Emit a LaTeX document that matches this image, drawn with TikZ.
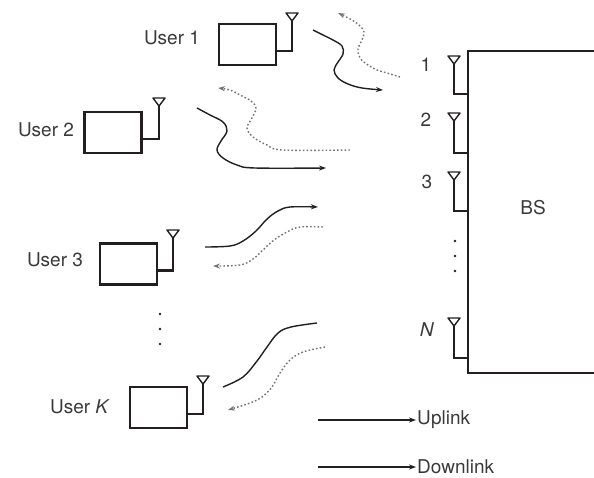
\documentclass[tikz,border=0pt]{standalone}
\usepackage{fontspec}
\setmainfont{TeX Gyre Heros}
\usetikzlibrary{arrows.meta}
\definecolor{ink}{HTML}{231F20}
\definecolor{txt}{HTML}{3A3A3A}
\begin{document}
\begin{tikzpicture}[x=1pt,y=-1pt,>={Stealth[length=7pt,width=5pt]},
  box/.style={draw=ink, line width=2.4pt, inner sep=0pt, minimum width=57pt, minimum height=41pt},
  wire/.style={draw=ink, line width=2.2pt},
  lbl/.style={text=txt, font=\fontsize{19}{21}\selectfont, inner sep=1pt},
  up/.style={draw=ink, line width=1.4pt},
  down/.style={draw=black!55, line width=1.4pt, dash pattern=on 1.6pt off 2.2pt}]
\useasboundingbox (0,0) rectangle (594,477);
\def\ant(#1){\draw[ink, line width=1.4pt, line join=round] (#1) -- ++(-6,-8) -- ++(12,0) -- cycle;}
% users
\node[box] (u1) at (247.5,44.5) {};
\node[box] (u2) at (113,132.5) {};
\node[box] (u3) at (128.5,264) {};
\node[box] (uK) at (158.5,407.5) {};
\node[lbl] (l1) at (172,38) {User 1};
\node[lbl] (l2) at (46,130) {User 2};
\node[lbl] (l3) at (55,260) {User 3};
\node[lbl] (lK) at (80,407) {User \textit{K}};
\coordinate (a1) at (292,21);
\coordinate (a2) at (159,106);
\coordinate (a3) at (173,238);
\coordinate (aK) at (203,384);
\foreach \u/\a in {u1/a1,u2/a2,u3/a3,uK/aK}{
  \draw[wire] (\a) |- ([yshift=-6.5pt]\u.east);
  \ant(\a)
}
\foreach \y in {314,329,344} \fill[ink] (160,\y) circle (1.3);
% base station
\node[draw=ink, line width=2.4pt, minimum width=144pt, minimum height=322pt, inner sep=0pt] (bs) at (540,212) {};
\node[lbl] (bslbl) at (533,208) {BS};
\coordinate (b1) at (454,64);
\coordinate (b2) at (454,121);
\coordinate (b3) at (454,180);
\coordinate (bN) at (454,326);
\foreach \b/\d in {b1/44,b2/103,b3/161,bN/308}{
  \draw[wire] (\b) |- ([yshift=-\d pt]bs.north west);
  \ant(\b)
}
\foreach \y in {241,256,271} \fill[ink] (455,\y) circle (1.3);
\node[lbl] (n1) at (426,65) {1};
\node[lbl] (n2) at (426,120) {2};
\node[lbl] (n3) at (427,182) {3};
\node[lbl] (nN) at (427,330) {\textit{N}};
% links
\draw[up,->] plot[smooth,tension=0.6] coordinates {(313,30) (323,35) (333,40) (342,46) (343,54) (338,62) (334,70) (338,78) (348,84) (362,88) (383,90)};
\draw[down,->] plot[smooth,tension=0.6] coordinates {(400,77) (387,73) (377,70) (368,65) (360,58) (358,49) (362,40) (364,32) (360,26) (352,20) (338,13)};
\draw[up,->] plot[smooth,tension=0.6] coordinates {(197,108) (210,115) (223,122) (227,131) (221,141) (217,150) (223,158) (237,165) (255,168) (326,168)};
\draw[down,->] plot[smooth,tension=0.6] coordinates {(350,150) (283,150) (267,145) (253,137) (247,128) (252,118) (256,108) (251,101) (240,95) (230,90) (218,88)};
\draw[up,->] plot[smooth,tension=0.6] coordinates {(205,247) (230,246) (243,241) (256,231) (267,219) (278,211) (290,207) (318,207)};
\draw[down,->] plot[smooth,tension=0.6] coordinates {(323,227) (300,227) (287,232) (274,240) (263,250) (253,259) (240,265) (213,266)};
\draw[up] plot[smooth,tension=0.6] coordinates {(223,387) (243,377) (257,361) (267,347) (278,333) (291,327) (317,323)};
\draw[down,->] plot[smooth,tension=0.6] coordinates {(325,347) (303,352) (290,360) (280,373) (272,387) (262,397) (250,403) (228,410)};
% legend
\coordinate (g1) at (318,420);
\coordinate (g2) at (318,467);
\node[lbl, anchor=west] (upl) at (416,420) {Uplink};
\node[lbl, anchor=west] (dnl) at (416,467) {Downlink};
\draw[wire, line width=2pt, ->] (g1) -- (upl.west);
\draw[wire, line width=2pt, ->] (g2) -- (dnl.west);
\end{tikzpicture}
\end{document}
